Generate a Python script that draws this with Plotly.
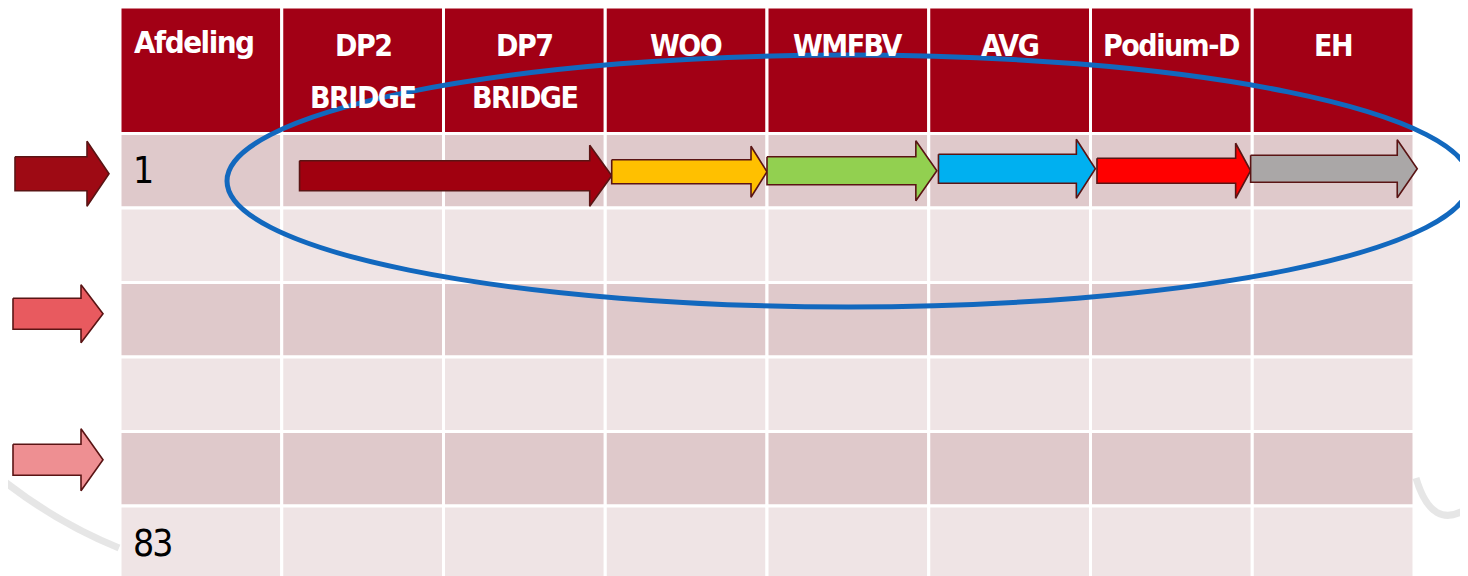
import plotly.graph_objects as go

# ---------------- data ----------------
header_line1 = ["Afdeling", "DP2", "DP7", "WOO", "WMFBV", "AVG", "Podium-D", "EH"]
header_line2 = ["", "BRIDGE", "BRIDGE", "", "", "", "", ""]
row_labels = ["1", "", "", "", "", "83"]

# flow arrows in row "1" (start / end in column units)
flow_start = [1.11, 3.04, 4.00, 5.06, 6.04, 6.99]
flow_end = [3.04, 4.00, 5.05, 6.03, 6.99, 8.02]
flow_row = 0

# arrows left of the table (rows they point at)
side_rows = [0, 2, 4]

# ---------------- style ----------------
W, H = 1468, 576
BODY_MARGIN = 8  # default page margin of the html body
TABLE_LEFT_PX, TABLE_TOP_PX, ROW0_TOP_PX = 120, 7, 133.5
COL_PX, ROW_PX = 161.75, 74.5

HEADER_BG = "#A20015"
ROW_BG = ["#DFC9CB", "#EFE4E5"]
GRID = "#FFFFFF"
OUTLINE = "#5A1414"
FONT = "DejaVu Sans Condensed, Liberation Sans Narrow, sans-serif"

flow_colors = ["#A0000F", "#FFC000", "#92D050", "#00B0F0", "#FF0000", "#AAA7A7"]
flow_dy_px = [5, 1, 0, -2, 0, -2]
flow_shaft_px = [15, 12, 14, 14.5, 12.5, 13.5]
flow_head_px = [30.5, 25.5, 30, 29.5, 27.5, 29]
flow_headlen_px = [22, 16, 21, 19, 15, 20]

side_colors = ["#9E0A14", "#E85A5F", "#EE8F92"]
side_x0_px = [15, 13, 13]
side_tip_px = [109, 103, 103]
side_dy_px = [3, -6, -9]
side_shaft_px = [17, 15.5, 15.5]
side_head_px = [32.5, 29, 31]
side_headlen_px = 22

ELLIPSE_PX = (227, 55, 1470, 307)
ELLIPSE_COLOR = "#1268BE"


def xu(px):
    return (px - TABLE_LEFT_PX) / COL_PX


def yu(px):
    return (px - ROW0_TOP_PX) / ROW_PX


def tight(txt, ls):
    return f'<span style="letter-spacing:{ls}px">{txt}</span>'


HEADER_TOP = yu(TABLE_TOP_PX)
n_cols = len(header_line1)
n_rows = len(row_labels)

fig = go.Figure()
shapes = []

# table cells
for c in range(n_cols):
    shapes.append(dict(type="rect", xref="x", yref="y", x0=c, x1=c + 1,
                       y0=HEADER_TOP, y1=0, fillcolor=HEADER_BG,
                       line=dict(color=GRID, width=3), layer="below"))
    for r in range(n_rows):
        shapes.append(dict(type="rect", xref="x", yref="y", x0=c, x1=c + 1,
                           y0=r, y1=r + 1, fillcolor=ROW_BG[r % 2],
                           line=dict(color=GRID, width=3), layer="below"))


# faint background swooshes of the slide
def pth(points):
    (x0, y0), (cx, cy), (x1, y1) = points
    return f"M {xu(x0)},{yu(y0)} Q {xu(cx)},{yu(cy)} {xu(x1)},{yu(y1)}"


shapes.append(dict(type="path", xref="x", yref="y",
                   path=pth([(0, 478), (55, 522), (119, 548)]),
                   line=dict(color="rgba(200,200,200,0.45)", width=7), layer="below"))
shapes.append(dict(type="path", xref="x", yref="y",
                   path=pth([(1416, 478), (1432, 532), (1468, 508)]),
                   line=dict(color="rgba(200,200,200,0.45)", width=7), layer="below"))


def arrow_poly(x0, x1, yc, shaft, head, headlen):
    # x in column units, yc in row units, sizes in pixels
    hb = x1 - headlen / COL_PX
    s = shaft / ROW_PX
    h = head / ROW_PX
    xs = [x0, hb, hb, x1, hb, hb, x0, x0]
    ys = [yc - s, yc - s, yc - h, yc, yc + h, yc + s, yc + s, yc - s]
    return xs, ys


# flow arrows
for i in range(len(flow_start)):
    yc = flow_row + 0.5 + flow_dy_px[i] / ROW_PX
    xs, ys = arrow_poly(flow_start[i], flow_end[i], yc, flow_shaft_px[i],
                        flow_head_px[i], flow_headlen_px[i])
    fig.add_trace(go.Scatter(x=xs, y=ys, mode="lines", fill="toself",
                             fillcolor=flow_colors[i],
                             line=dict(color=OUTLINE, width=1.6),
                             hoverinfo="skip", showlegend=False))

# side arrows
for i, r in enumerate(side_rows):
    yc = r + 0.5 + side_dy_px[i] / ROW_PX
    xs, ys = arrow_poly(xu(side_x0_px[i]), xu(side_tip_px[i]), yc,
                        side_shaft_px[i], side_head_px[i], side_headlen_px)
    fig.add_trace(go.Scatter(x=xs, y=ys, mode="lines", fill="toself",
                             fillcolor=side_colors[i],
                             line=dict(color=OUTLINE, width=1.6),
                             hoverinfo="skip", showlegend=False))

# ellipse highlight
ex0, ey0, ex1, ey1 = ELLIPSE_PX
shapes.append(dict(type="circle", xref="x", yref="y",
                   x0=xu(ex0), x1=xu(ex1), y0=yu(ey0), y1=yu(ey1),
                   line=dict(color=ELLIPSE_COLOR, width=5), layer="above"))

# header text
annotations = []
L1_Y = yu(45)
L2_Y = yu(97)
HEAD_FONT = dict(family=FONT, size=30, color="white", weight="bold")
for c in range(n_cols):
    if c == 0:
        annotations.append(dict(x=xu(132), y=yu(42), xref="x", yref="y",
                                text=tight(header_line1[c], -1.5), showarrow=False,
                                xanchor="left", yanchor="middle",
                                font=dict(family=FONT, size=31, color="white", weight="bold")))
        continue
    annotations.append(dict(x=c + 0.5, y=L1_Y, xref="x", yref="y",
                            text=tight(header_line1[c], -1.5), showarrow=False,
                            xanchor="center", yanchor="middle", font=HEAD_FONT))
    if header_line2[c]:
        annotations.append(dict(x=c + 0.5, y=L2_Y, xref="x", yref="y",
                                text=tight(header_line2[c], -1.5), showarrow=False,
                                xanchor="center", yanchor="middle", font=HEAD_FONT))

# row labels
for r, lab in enumerate(row_labels):
    if lab:
        annotations.append(dict(x=xu(131), y=r + 0.5, xref="x", yref="y",
                                text=tight(lab, -2), showarrow=False,
                                xanchor="left", yanchor="middle",
                                font=dict(family=FONT, size=37, color="black")))

fig.update_layout(
    width=W - BODY_MARGIN, height=H - BODY_MARGIN, autosize=False,
    margin=dict(l=0, r=0, t=0, b=0, pad=0),
    paper_bgcolor="white", plot_bgcolor="white",
    shapes=shapes, annotations=annotations,
    xaxis=dict(range=[xu(BODY_MARGIN), xu(W)], visible=False, fixedrange=True),
    yaxis=dict(range=[yu(H), yu(BODY_MARGIN)], visible=False, fixedrange=True),
    showlegend=False,
)

fig.write_html("out.html", config={"displayModeBar": False})
